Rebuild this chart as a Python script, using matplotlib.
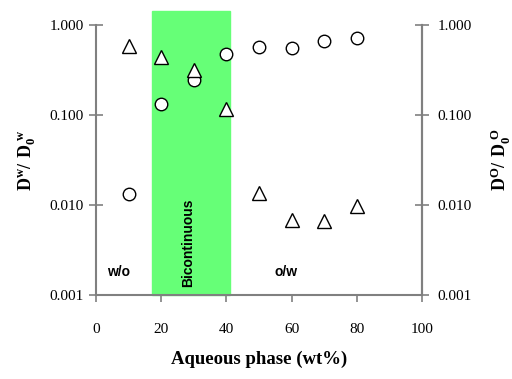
import matplotlib
matplotlib.use('Agg')
import matplotlib.pyplot as plt
from matplotlib.patches import Rectangle
from matplotlib.ticker import FixedLocator, FixedFormatter

plt.rcParams['mathtext.fontset'] = 'custom'
plt.rcParams['mathtext.rm'] = 'Liberation Serif'
plt.rcParams['mathtext.bf'] = 'Liberation Serif:bold'

# data
water_x = [10, 20, 30, 40, 50, 60, 70, 80]
water_d = [0.0133, 0.133, 0.245, 0.476, 0.57, 0.555, 0.66, 0.72]
oil_x = [10, 20, 30, 40, 50, 60, 70, 80]
oil_d = [0.58, 0.44, 0.316, 0.117, 0.0135, 0.0068, 0.0066, 0.0098]
bic_lo, bic_hi = 17.2, 41.1
yticks = [0.001, 0.01, 0.1, 1.0]
ytick_labels = ['0.001', '0.010', '0.100', '1.000']
xticks = [0, 20, 40, 60, 80, 100]

gray = '#808080'
fig = plt.figure(figsize=(5.12, 3.79), dpi=100)
ax = fig.add_axes([0.1875, 0.2216, 0.6367, 0.7124])
ax.set_yscale('log')
ax.set_xlim(0, 100)
ax.set_ylim(0.001, 1.0)

# bicontinuous band, pokes above the frame like the original
ax.add_patch(Rectangle((bic_lo, 0), bic_hi - bic_lo, 1.052,
                       transform=ax.get_xaxis_transform(),
                       color='#66ff77', zorder=0, clip_on=False))

ax.plot(water_x, water_d, 'o', mfc='white', mec='black', mew=1.0, ms=9,
        clip_on=False, zorder=3)
ax.plot(oil_x, oil_d, '^', mfc='white', mec='black', mew=1.0, ms=10,
        clip_on=False, zorder=3)

ax.text(6.8, 0.0018, 'w/o', fontsize=10, fontweight='bold',
        family='Liberation Sans', ha='center', va='center')
ax.text(28.2, 0.0038, 'Bicontinuous', fontsize=10, fontweight='bold',
        family='Liberation Sans', rotation=90, ha='center', va='center')
ax.text(58.3, 0.0018, 'o/w', fontsize=10, fontweight='bold',
        family='Liberation Sans', ha='center', va='center')

for s in ['top']:
    ax.spines[s].set_visible(False)
for s in ['left', 'right', 'bottom']:
    ax.spines[s].set_color(gray)
    ax.spines[s].set_linewidth(1.5)

ax.yaxis.set_major_locator(FixedLocator(yticks))
ax.yaxis.set_major_formatter(FixedFormatter(ytick_labels))
ax.yaxis.set_minor_locator(FixedLocator([]))
ax.set_xticks(xticks)
ax.tick_params(axis='y', direction='inout', length=10, width=1.2, color=gray,
               labelsize=11, pad=4)
ax.tick_params(axis='x', direction='out', length=5, width=1.2, color=gray,
               labelsize=11, pad=15)
for lab in ax.get_xticklabels() + ax.get_yticklabels():
    lab.set_family('Liberation Serif')

ax.set_xlabel('Aqueous phase (wt%)', family='Liberation Serif',
              fontweight='bold', fontsize=13.5, labelpad=11)
ax.set_ylabel(r'$\mathbf{D^{w}/\ D_0^{\ w}}$', fontsize=13, labelpad=8)

ax2 = ax.twinx()
ax2.set_yscale('log')
ax2.set_ylim(0.001, 1.0)
ax2.yaxis.set_major_locator(FixedLocator(yticks))
ax2.yaxis.set_major_formatter(FixedFormatter(ytick_labels))
ax2.yaxis.set_minor_locator(FixedLocator([]))
for s in ['top', 'left', 'bottom']:
    ax2.spines[s].set_visible(False)
ax2.spines['right'].set_color(gray)
ax2.spines['right'].set_linewidth(1.5)
ax2.tick_params(axis='y', direction='inout', length=10, width=1.2, color=gray,
                labelsize=11, pad=6)
for lab in ax2.get_yticklabels():
    lab.set_family('Liberation Serif')
ax2.set_ylabel(r'$\mathbf{D^{O}/\ D_0^{\ O}}$', fontsize=13, labelpad=12,
               rotation=90)

fig.savefig('out.png', dpi=100)
